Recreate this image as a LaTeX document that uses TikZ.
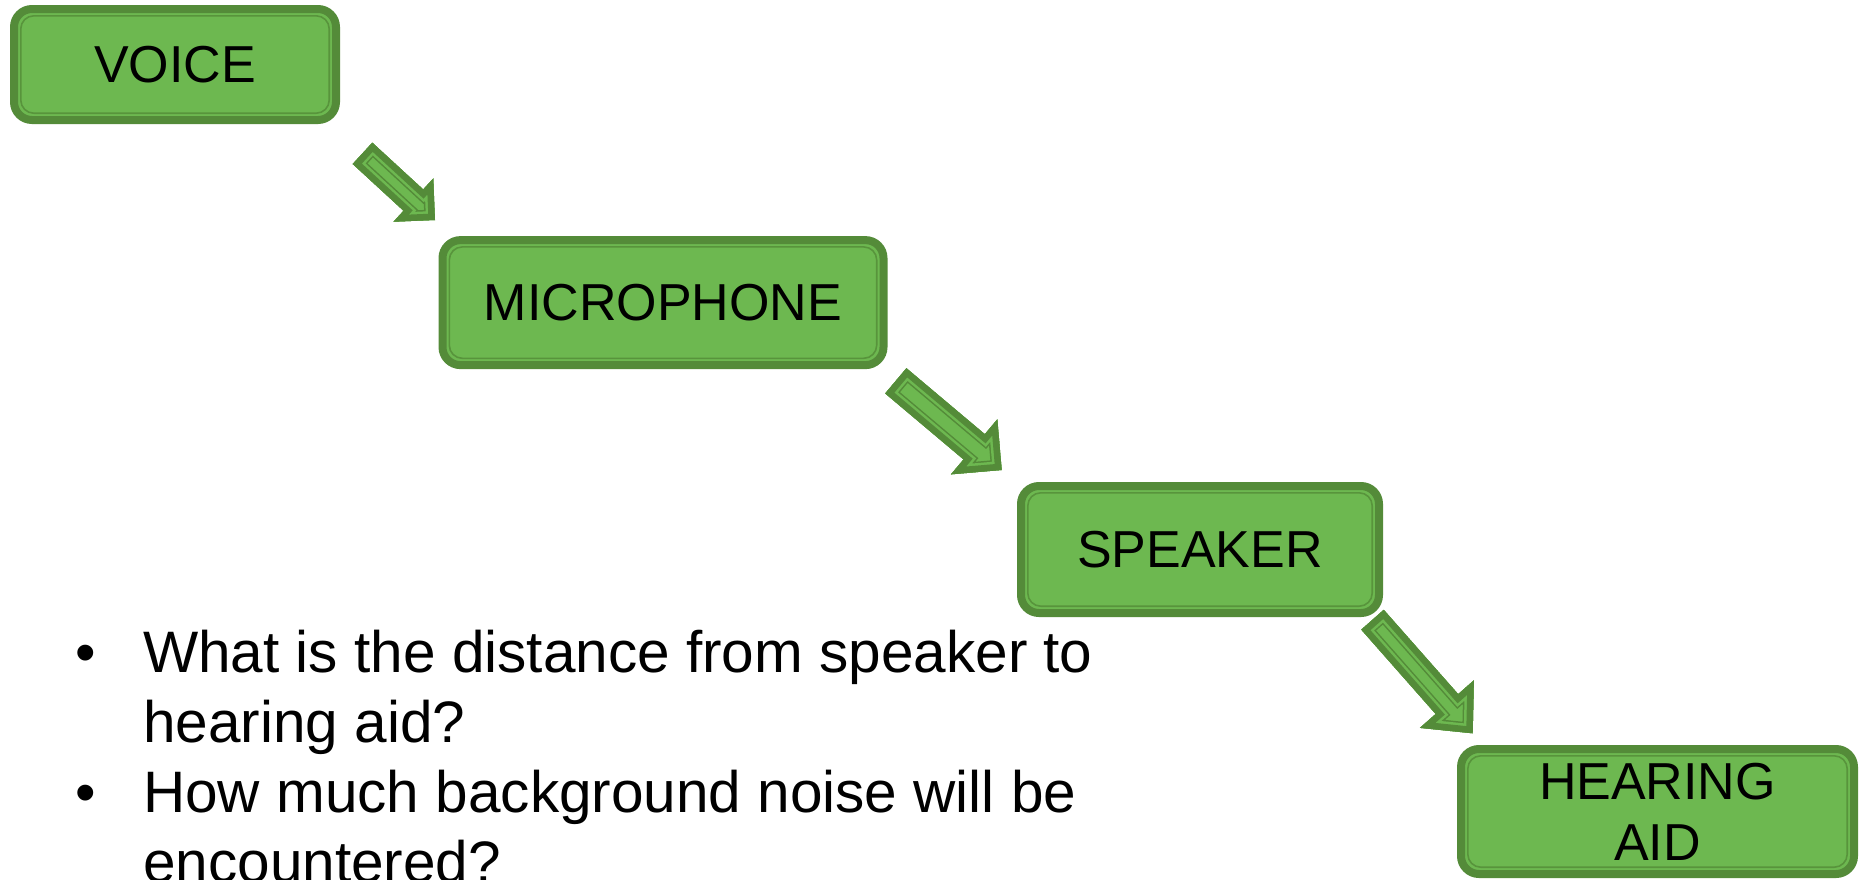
\documentclass[tikz,border=0pt]{standalone}
\usepackage{fontspec}
\setmainfont{Liberation Sans}
\usetikzlibrary{calc}
\definecolor{lightg}{RGB}{109,184,80}
\definecolor{darkg}{RGB}{84,139,57}
\definecolor{darkgb}{RGB}{88,148,60}
\newcommand{\boxfont}{\fontsize{52}{61}\selectfont}
\newcommand{\bulfont}{\fontsize{58.5}{70}\selectfont}
\newcommand{\blockarrow}[5]{%
  \coordinate (hb) at ($(#2)!#5pt!(#1)$);
  \def\apath{($(#1)!#3pt!90:(#2)$) -- ($(hb)!#3pt!90:(#2)$) -- ($(hb)!#4pt!90:(#2)$) -- (#2) -- ($(hb)!#4pt!-90:(#2)$) -- ($(hb)!#3pt!-90:(#2)$) -- ($(#1)!#3pt!-90:(#2)$) -- cycle}%
  \begin{scope}
    \clip \apath;
    \fill[lightg] \apath;
    \draw[darkg, line width=21pt] \apath;
    \draw[lightg, line width=18pt] \apath;
    \draw[darkg, line width=13pt] \apath;
  \end{scope}}
\tikzset{
  box/.style={rectangle, rounded corners=18pt, fill=lightg, draw=darkg,
    line width=8pt, inner sep=0pt, align=center, font=\boxfont, text=black,
    path picture={\draw[darkgb, line width=1.6pt, rounded corners=13pt]
      ($(path picture bounding box.south west)+(6.8pt,6.8pt)$) rectangle
      ($(path picture bounding box.north east)+(-6.8pt,-6.8pt)$);}},
  btext/.style={anchor=base west, inner sep=0pt, font=\bulfont, text=black},
  bdot/.style={anchor=base, inner sep=0pt, font=\bulfont, text=black}
}
\begin{document}
\begin{tikzpicture}[x=1pt,y=-1pt]
\useasboundingbox (0,0) rectangle (1868,879);
\node[box, minimum width=322pt, minimum height=111pt] (voice) at (175,64.5) {VOICE};
\node[box, minimum width=441pt, minimum height=125pt] (mic) at (663,302.6) {MICROPHONE};
\node[box, minimum width=358pt, minimum height=127pt] (spk) at (1200,549.5) {SPEAKER};
\node[box, minimum width=393pt, minimum height=125pt] (aid) at (1657.5,811.5) {HEARING\\AID};
\coordinate (a1s) at (362.5,153.3);
\coordinate (a1e) at (435,220);
\coordinate (a2s) at (895.8,380.8);
\coordinate (a2e) at (1001.7,470);
\coordinate (a3s) at (1372.5,619.7);
\coordinate (a3e) at (1472.7,733.3);
\blockarrow{a1s}{a1e}{14.5}{29.4}{29.4}
\blockarrow{a2s}{a2e}{16.5}{36}{36}
\blockarrow{a3s}{a3e}{15}{36}{39}
\node[bdot] (b1) at (86,672) {•};
\node[btext] (t1) at (143,672) {What is the distance from speaker to};
\node[btext] (t2) at (143,742) {hearing aid?};
\node[bdot] (b2) at (86,812) {•};
\node[btext] (t3) at (143,812) {How much background noise will be};
\node[btext] (t4) at (143,882) {encountered?};
\end{tikzpicture}
\end{document}
